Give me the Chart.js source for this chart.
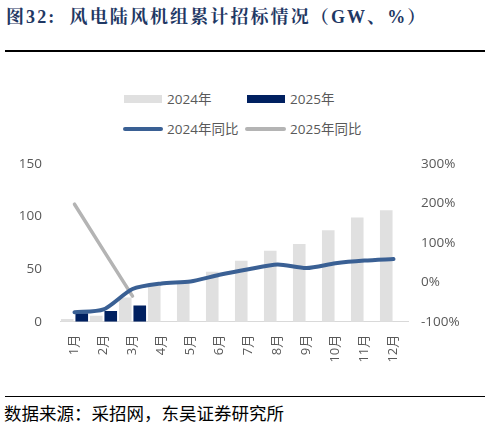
<!DOCTYPE html>
<html><head><meta charset="utf-8">
<script src="https://cdn.jsdelivr.net/npm/chart.js@4.4.1/dist/chart.umd.min.js"></script>
<style>
html,body{margin:0;padding:0;background:#fff;}
body{width:490px;height:438px;position:relative;overflow:hidden;font-family:"Open Sans","Noto Sans CJK SC",sans-serif;}
#title{position:absolute;left:6px;top:5px;font:bold 18px/24px "Liberation Serif","Noto Serif CJK SC","Noto Sans CJK SC",serif;color:#1F3864;white-space:nowrap;letter-spacing:2.1px;}
#line1{position:absolute;left:5px;top:50px;width:480px;height:2px;background:#000;}
#line2{position:absolute;left:5px;top:396px;width:480px;height:1.3px;background:#000;}
#source{position:absolute;left:4px;top:401px;font:17.5px/24px "Noto Sans CJK SC",sans-serif;color:#000;white-space:nowrap;}
.lg{position:absolute;font:13.5px/18px "Open Sans","Noto Sans CJK SC",sans-serif;color:#595959;white-space:nowrap;}
.sw{position:absolute;}
#wrap{position:absolute;left:0;top:130px;width:490px;height:250px;}
</style></head>
<body>
<div id="title">图32:&nbsp;&nbsp;风电陆风机组累计招标情况（GW、%）</div>
<div id="line1"></div>
<div id="legend"></div>
<div id="wrap"><canvas id="c"></canvas></div>
<div id="line2"></div>
<div id="source">数据来源：采招网，东吴证券研究所</div>
<script>
const months = ["1月","2月","3月","4月","5月","6月","7月","8月","9月","10月","11月","12月"];
const seriesNames = ["2024年","2025年","2024年同比","2025年同比"];
const bids2024 = [2.6, 5.7, 23, 34, 37.5, 47.5, 58, 67.5, 74, 87, 99, 106];
const bids2025 = [8, 10.2, 15.3, null, null, null, null, null, null, null, null, null];
const yoy2024 = [-76, -69, -17, -3, 2, 19, 33, 45, 36, 48, 55, 59];
const yoy2025 = [198, 81, -35, null, null, null, null, null, null, null, null, null];
const leftTicks = [0, 50, 100, 150];
const rightTicks = [-100, 0, 100, 200, 300];
const colors = ["#E0E0E0", "#002060", "#3A6094", "#B4B4B4"];

// HTML legend
const lg = document.getElementById('legend');
const legendPos = [
  {sx:124, sy:95, w:38, h:8, tx:167, ty:90, type:'box'},
  {sx:247, sy:95, w:38, h:8, tx:290, ty:90, type:'box'},
  {sx:123, sy:127, w:40, h:4, tx:167, ty:120, type:'line'},
  {sx:245, sy:127, w:41, h:4, tx:290, ty:120, type:'line'}
];
seriesNames.forEach((n,i)=>{
  const p = legendPos[i];
  const s = document.createElement('div');
  s.className='sw';
  s.style.cssText = `left:${p.sx}px;top:${p.sy}px;width:${p.w}px;height:${p.h}px;background:${colors[i]};` + (p.type==='line'?'border-radius:2px;':'');
  lg.appendChild(s);
  const t = document.createElement('div');
  t.className='lg'; t.textContent=n;
  t.style.left=p.tx+'px'; t.style.top=p.ty+'px';
  lg.appendChild(t);
});

const tickFont = {family:'"Open Sans","Noto Sans CJK SC",sans-serif', size:13.5};
new Chart(document.getElementById('c'), {
  data: {
    labels: months,
    datasets: [
      {type:'bar', label:seriesNames[0], data:bids2024, backgroundColor:colors[0], yAxisID:'y', order:3, categoryPercentage:1, barPercentage:0.87},
      {type:'bar', label:seriesNames[1], data:bids2025, backgroundColor:colors[1], yAxisID:'y', order:3, categoryPercentage:1, barPercentage:0.87},
      {type:'line', label:seriesNames[2], data:yoy2024, borderColor:colors[2], borderWidth:4, pointRadius:0, tension:0.25, borderCapStyle:'round', borderJoinStyle:'round', yAxisID:'y1', order:1},
      {type:'line', label:seriesNames[3], data:yoy2025, borderColor:colors[3], borderWidth:3.5, pointRadius:0, tension:0, spanGaps:true, borderCapStyle:'round', yAxisID:'y1', order:2}
    ]
  },
  options: {
    responsive:true, maintainAspectRatio:false, animation:false,
    layout:{padding:{top:34,left:0,right:0,bottom:0}},
    plugins:{legend:{display:false}, tooltip:{enabled:false}},
    scales:{
      x:{
        grid:{display:false, drawTicks:false},
        border:{display:true, color:'#D9D9D9', width:1},
        ticks:{color:'#595959', font:{...tickFont, size:13}, maxRotation:90, minRotation:90, padding:13, autoSkip:false},
        afterFit(s){ s.height = 58.3; }
      },
      y:{
        position:'left', min:0, max:150,
        afterBuildTicks(s){ s.ticks = leftTicks.map(v=>({value:v})); },
        grid:{display:false, drawTicks:false},
        border:{display:false},
        ticks:{color:'#595959', font:tickFont, padding:18},
        afterFit(s){ s.width = 60; }
      },
      y1:{
        position:'right', min:-100, max:300,
        afterBuildTicks(s){ s.ticks = rightTicks.map(v=>({value:v})); },
        grid:{display:false, drawTicks:false},
        border:{display:false},
        ticks:{color:'#595959', font:tickFont, padding:13, callback:v=>v+'%'},
        afterFit(s){ s.width = 82; }
      }
    }
  }
});
</script>
</body></html>
